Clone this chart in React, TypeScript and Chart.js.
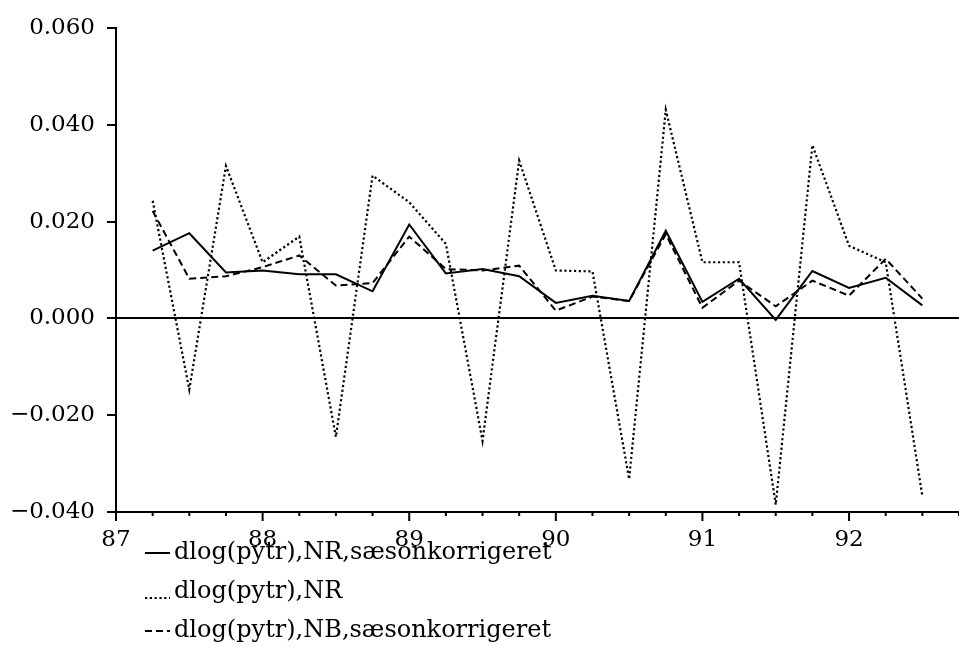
import { useEffect, useRef } from "react";
import { Chart, registerables } from "chart.js";

Chart.register(...registerables);

const quarters = [
  87.25, 87.5, 87.75, 88, 88.25, 88.5, 88.75, 89, 89.25, 89.5, 89.75, 90,
  90.25, 90.5, 90.75, 91, 91.25, 91.5, 91.75, 92, 92.25, 92.5,
];

const nrSeasonAdj = [
  0.014, 0.0176, 0.0095, 0.0099, 0.0091, 0.0091, 0.0056, 0.0194, 0.0093,
  0.0102, 0.0087, 0.0032, 0.0047, 0.0036, 0.0181, 0.0034, 0.0082, -0.0003,
  0.0098, 0.0063, 0.0084, 0.0027,
];

const nrRaw = [
  0.0243, -0.0147, 0.0315, 0.0116, 0.0169, -0.0245, 0.0295, 0.024, 0.0154,
  -0.0253, 0.0326, 0.0099, 0.0097, -0.0332, 0.0431, 0.0116, 0.0116, -0.0385,
  0.0358, 0.015, 0.0116, -0.0367,
];

const nbSeasonAdj = [
  0.0222, 0.0082, 0.0087, 0.0106, 0.013, 0.0068, 0.0073, 0.0169, 0.0102,
  0.0099, 0.0109, 0.0016, 0.0045, 0.0036, 0.0174, 0.0022, 0.0078, 0.0025,
  0.0078, 0.0047, 0.0123, 0.0041,
];

const seriesLabels = [
  "dlog(pytr),NR,sæsonkorrigeret",
  "dlog(pytr),NR",
  "dlog(pytr),NB,sæsonkorrigeret",
];

const xMin = 87;
const xMax = 92.75;
const yMin = -0.04;
const yMax = 0.06;
const yStep = 0.02;

const FONT = "'DejaVu Serif', 'Liberation Serif', serif";

const toPoints = (vals: number[]) =>
  vals.map((v, i) => ({ x: quarters[i], y: v }));

const fmtY = (v: number) => {
  if (Math.abs(v) < 1e-9) return "0.000";
  return (v < 0 ? "\u2212" : "") + Math.abs(v).toFixed(3);
};

const ticksAndLegend = {
  id: "ticksAndLegend",
  afterDraw(chart: any) {
    const ctx = chart.ctx;
    const xs = chart.scales.x;
    const area = chart.chartArea;
    ctx.save();
    ctx.strokeStyle = "#000";
    ctx.lineWidth = 2;
    ctx.setLineDash([]);
    for (let v = xMin; v <= xMax + 1e-9; v += 0.25) {
      const px = xs.getPixelForValue(v);
      const major = Math.abs(v - Math.round(v)) < 1e-9;
      ctx.beginPath();
      ctx.moveTo(px, area.bottom);
      ctx.lineTo(px, area.bottom + (major ? 9 : 4));
      ctx.stroke();
    }
    // legend
    const rowY = [553, 592, 631];
    chart.data.datasets.forEach((ds: any, i: number) => {
      const y = rowY[i];
      ctx.strokeStyle = "#000";
      ctx.lineWidth = ds.borderWidth;
      ctx.setLineDash(ds.borderDash || []);
      ctx.beginPath();
      const ly = i === 1 ? y + 6 : y;
      ctx.moveTo(145, ly);
      ctx.lineTo(170, ly);
      ctx.stroke();
      ctx.setLineDash([]);
      ctx.fillStyle = "#000";
      ctx.font = `24px ${FONT}`;
      ctx.textBaseline = "middle";
      ctx.textAlign = "left";
      ctx.fillText(ds.label, 174, y);
    });
    ctx.restore();
  },
};

export default function App() {
  const ref = useRef<HTMLCanvasElement | null>(null);

  useEffect(() => {
    if (!ref.current) return;
    const chart = new Chart(ref.current, {
      type: "line",
      data: {
        datasets: [
          {
            label: seriesLabels[0],
            data: toPoints(nrSeasonAdj),
            borderColor: "#000",
            borderWidth: 2,
            pointRadius: 0,
            tension: 0,
          },
          {
            label: seriesLabels[1],
            data: toPoints(nrRaw),
            borderColor: "#000",
            borderWidth: 2.2,
            borderDash: [2.2, 2.6],
            pointRadius: 0,
            tension: 0,
          },
          {
            label: seriesLabels[2],
            data: toPoints(nbSeasonAdj),
            borderColor: "#000",
            borderWidth: 2,
            borderDash: [7, 4],
            pointRadius: 0,
            tension: 0,
          },
        ],
      },
      options: {
        responsive: false,
        animation: false,
        layout: { padding: { top: 28, left: 0, right: 0, bottom: 0 } },
        plugins: {
          legend: { display: false },
          tooltip: { enabled: false },
        },
        scales: {
          x: {
            type: "linear",
            min: xMin,
            max: xMax,
            position: "bottom",
            afterFit: (s: any) => {
              s.height = 147;
            },
            ticks: {
              stepSize: 1,
              includeBounds: false,
              color: "#000",
              font: { family: FONT, size: 23 },
              padding: 14,
              maxRotation: 0,
              callback: (v: any) => String(v),
            },
            grid: { drawOnChartArea: false, drawTicks: false },
            border: { display: true, color: "#000", width: 2 },
          },
          y: {
            type: "linear",
            min: yMin,
            max: yMax,
            afterFit: (s: any) => {
              s.width = 116;
            },
            ticks: {
              stepSize: yStep,
              color: "#000",
              font: { family: FONT, size: 23 },
              padding: 12,
              callback: (v: any) => fmtY(Number(v)),
            },
            grid: {
              color: (c: any) =>
                c.tick && Math.abs(c.tick.value) < 1e-9 ? "#000" : "rgba(0,0,0,0)",
              lineWidth: 2,
              drawTicks: true,
              tickLength: 9,
              tickColor: "#000",
              tickWidth: 2,
            },
            border: { display: true, color: "#000", width: 2 },
          },
        },
      },
      plugins: [ticksAndLegend],
    });
    return () => chart.destroy();
  }, []);

  return (
    <div
      style={{
        position: "fixed",
        left: 0,
        top: 0,
        width: 959,
        height: 659,
        background: "#fff",
      }}
    >
      <canvas ref={ref} width={959} height={659} />
    </div>
  );
}
